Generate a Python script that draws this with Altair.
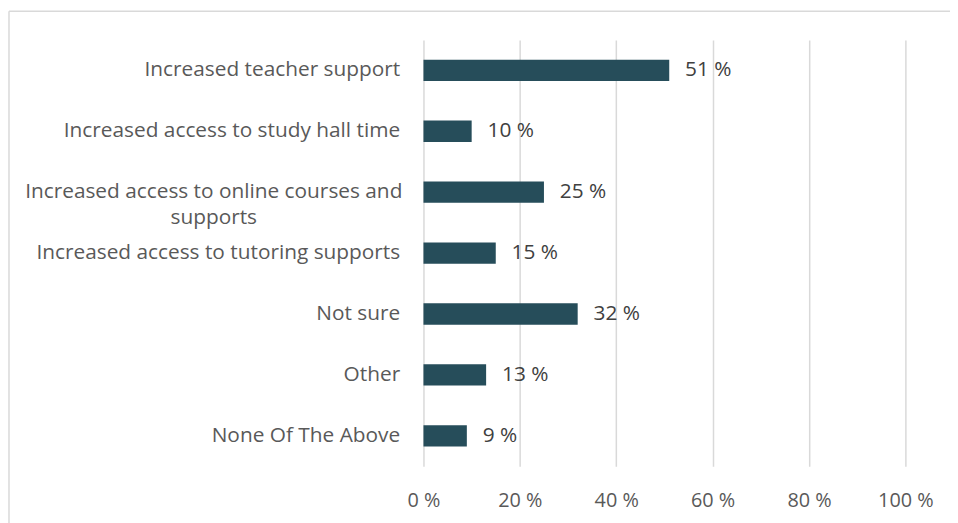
import altair as alt
import pandas as pd

categories = [
    "Increased teacher support",
    "Increased access to study hall time",
    "Increased access to online courses and|supports",
    "Increased access to tutoring supports",
    "Not sure",
    "Other",
    "None Of The Above",
]
values = [51, 10, 25, 15, 32, 13, 9]
x_ticks = [0, 20, 40, 60, 80, 100]

df = pd.DataFrame({"category": categories, "value": values})
FONT = "Open Sans"
MULTI = "indexof(datum.value, '|') >= 0"

y_enc = alt.Y(
    "category:N",
    sort=categories,
    scale=alt.Scale(paddingInner=0.65, paddingOuter=0.325),
    axis=alt.Axis(
        title=None, ticks=False, domain=False, grid=False,
        labelFont=FONT, labelFontSize=21, labelColor="#595959",
        labelExpr="split(datum.label, '|')",
        labelLineHeight=26, labelLimit=600,
        labelAlign={"condition": {"test": MULTI, "value": "center"}, "value": "right"},
        labelPadding={"condition": {"test": MULTI, "value": 212}, "value": 24},
    ),
)
x_enc = alt.X(
    "value:Q",
    scale=alt.Scale(domain=[0, 100]),
    axis=alt.Axis(
        values=x_ticks, title=None, ticks=False, domain=False, grid=True,
        gridColor="#d9d9d9", gridWidth=1.5, labelFlush=False,
        labelExpr="datum.value + ' %'",
        labelFont=FONT, labelFontSize=20, labelColor="#595959", labelPadding=25,
    ),
)

bars = alt.Chart(df).mark_bar(color="#264d5a").encode(x=x_enc, y=y_enc)
labels = alt.Chart(df).mark_text(
    align="left", baseline="middle", dx=16, font=FONT, fontSize=21, color="#404040"
).encode(
    x=alt.X("value:Q"),
    y=alt.Y("category:N", sort=categories),
    text=alt.Text("label:N"),
).transform_calculate(label="datum.value + ' %'")

one = pd.DataFrame({"a": [0]})
border_left = alt.Chart(one).mark_rule(color="#d9d9d9", strokeWidth=1.5).encode(
    x=alt.value(-418), y=alt.value(-29), y2=alt.value(560)
)
border_top = alt.Chart(one).mark_rule(color="#d9d9d9", strokeWidth=1.5).encode(
    x=alt.value(-418), x2=alt.value(600), y=alt.value(-29)
)

chart = alt.layer(bars, labels, border_left, border_top).properties(
    width=486, height=430,
    autosize=alt.AutoSizeParams(type="none"),
    padding={"left": 419, "top": 30, "right": 45, "bottom": 55},
).configure_view(stroke=None)

chart.save("out.html", embed_options={"renderer": "svg", "actions": False})
